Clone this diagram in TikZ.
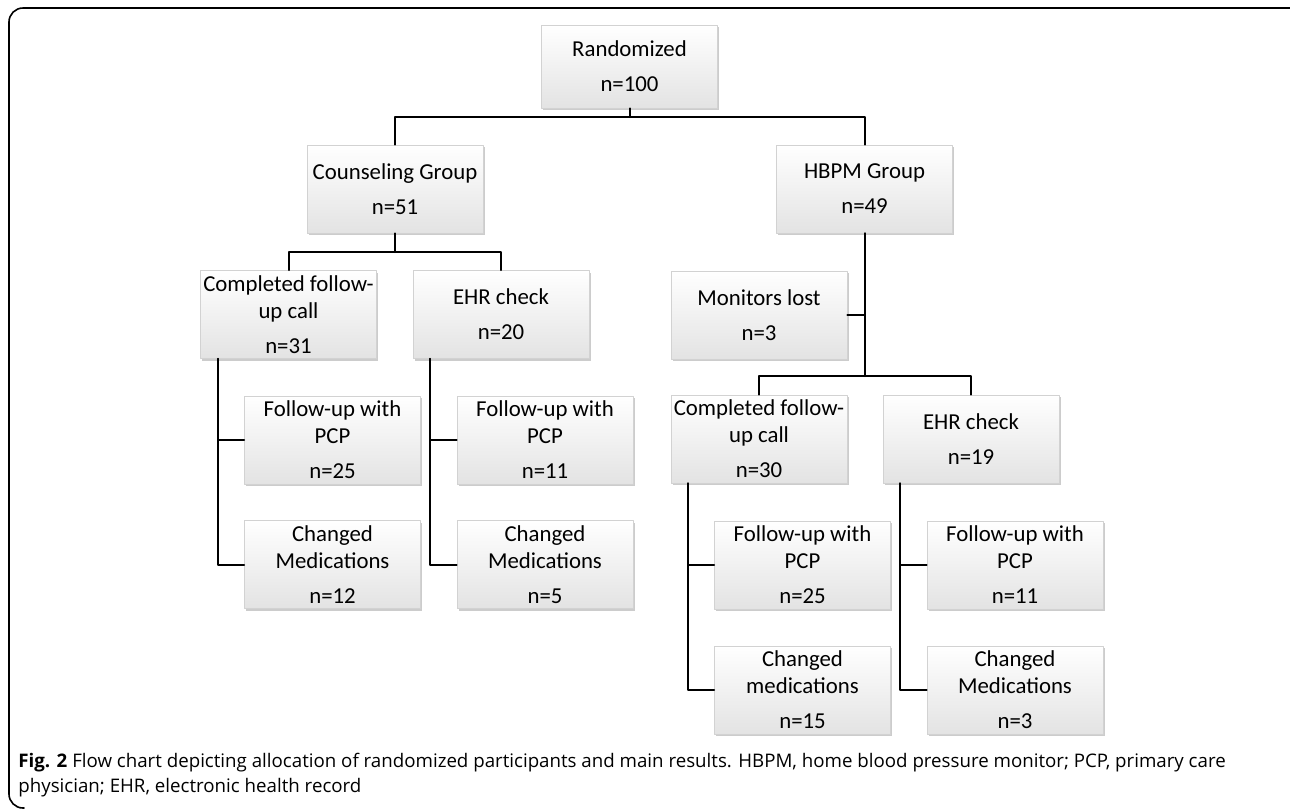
\documentclass[tikz,border=0pt]{standalone}
\usepackage{fontspec}
\setmainfont{Carlito}
\newfontfamily\capfont{Open Sans}
\usetikzlibrary{shadows}

\tikzset{
  stage/.style={draw=gray!35, line width=0.3pt, top color=white, bottom color=gray!22,
    drop shadow={shadow xshift=0.8pt, shadow yshift=-1.2pt, opacity=0.4},
    minimum width=88pt, minimum height=44pt, inner sep=0pt, align=center,
    font=\fontsize{11.4}{13.5}\selectfont},
  link/.style={line width=1pt, black}
}

\begin{document}
\begin{tikzpicture}[x=0.5pt, y=-0.5pt, line cap=round, line join=round]

% Fix the page to the reference size
\useasboundingbox (0,0) rectangle (1290,810);

% Outer frame (only top and left side show)
\draw[line width=0.8pt, rounded corners=7pt] (1300,8) -- (9,8) -- (9,808) -- (24,808);

% Top of the chart
\node[stage, minimum height=41.5pt] (rand) at (629.5,66.5) {Randomized\\[4pt]n=100};

% Two groups
\node[stage] (couns) at (395,189) {Counseling Group\\[4pt]n=51};
\node[stage] (hbpm) at (864.5,189) {HBPM Group\\[4pt]n=49};

% Counseling side
\node[stage] (callL) at (288.5,314.5) {Completed follow-\\up call\\[4pt]n=31};
\node[stage] (ehrL) at (501,314.5) {EHR check\\[4pt]n=20};
\node[stage] (pcpA) at (332.5,440) {Follow-up with\\PCP\\[4pt]n=25};
\node[stage] (medA) at (332.5,564.5) {Changed\\Medications\\[4pt]n=12};
\node[stage] (pcpB) at (545,440) {Follow-up with\\PCP\\[4pt]n=11};
\node[stage] (medB) at (545,564.5) {Changed\\Medications\\[4pt]n=5};

% HBPM side
\node[stage] (lost) at (759,315) {Monitors lost\\[4pt]n=3};
\node[stage] (callR) at (759,439) {Completed follow-\\up call\\[4pt]n=30};
\node[stage] (ehrR) at (971,439) {EHR check\\[4pt]n=19};
\node[stage] (pcpC) at (802.5,565) {Follow-up with\\PCP\\[4pt]n=25};
\node[stage] (medC) at (802.5,690) {Changed\\medications\\[4pt]n=15};
\node[stage] (pcpD) at (1015,565) {Follow-up with\\PCP\\[4pt]n=11};
\node[stage] (medD) at (1015,690) {Changed\\Medications\\[4pt]n=3};

% Branch points
\coordinate (splitTop) at (629.5,117);
\coordinate (splitL) at (395,252);
\coordinate (splitR) at (864.5,376);

% Connectors
\draw[link] (rand.south) -- (splitTop);
\draw[link] (splitTop) -| (couns.north);
\draw[link] (splitTop) -| (hbpm.north);

\draw[link] (couns.south) -- (splitL);
\draw[link] (splitL) -| (callL.north);
\draw[link] (splitL) -| (ehrL.north);

\draw[link] (hbpm.south) -- (splitR);
\draw[link] (hbpm.south) |- (lost.east);
\draw[link] (splitR) -| (callR.north);
\draw[link] (splitR) -| (ehrR.north);

\draw[link] ([xshift=8.75pt]callL.south west) |- (pcpA.west);
\draw[link] ([xshift=8.75pt]callL.south west) |- (medA.west);
\draw[link] ([xshift=8.75pt]ehrL.south west) |- (pcpB.west);
\draw[link] ([xshift=8.75pt]ehrL.south west) |- (medB.west);
\draw[link] ([xshift=8.75pt]callR.south west) |- (pcpC.west);
\draw[link] ([xshift=8.75pt]callR.south west) |- (medC.west);
\draw[link] ([xshift=8.75pt]ehrR.south west) |- (pcpD.west);
\draw[link] ([xshift=8.75pt]ehrR.south west) |- (medD.west);

% Caption (base is the last line)
\node[anchor=base west, align=left, inner sep=0pt,
  font=\capfont\fontsize{9.35}{12.5}\selectfont] (caption) at (18,792)
  {\textbf{Fig. 2} Flow chart depicting allocation of randomized participants and main results. HBPM, home blood pressure monitor; PCP, primary care\\
   physician; EHR, electronic health record};

\end{tikzpicture}
\end{document}
